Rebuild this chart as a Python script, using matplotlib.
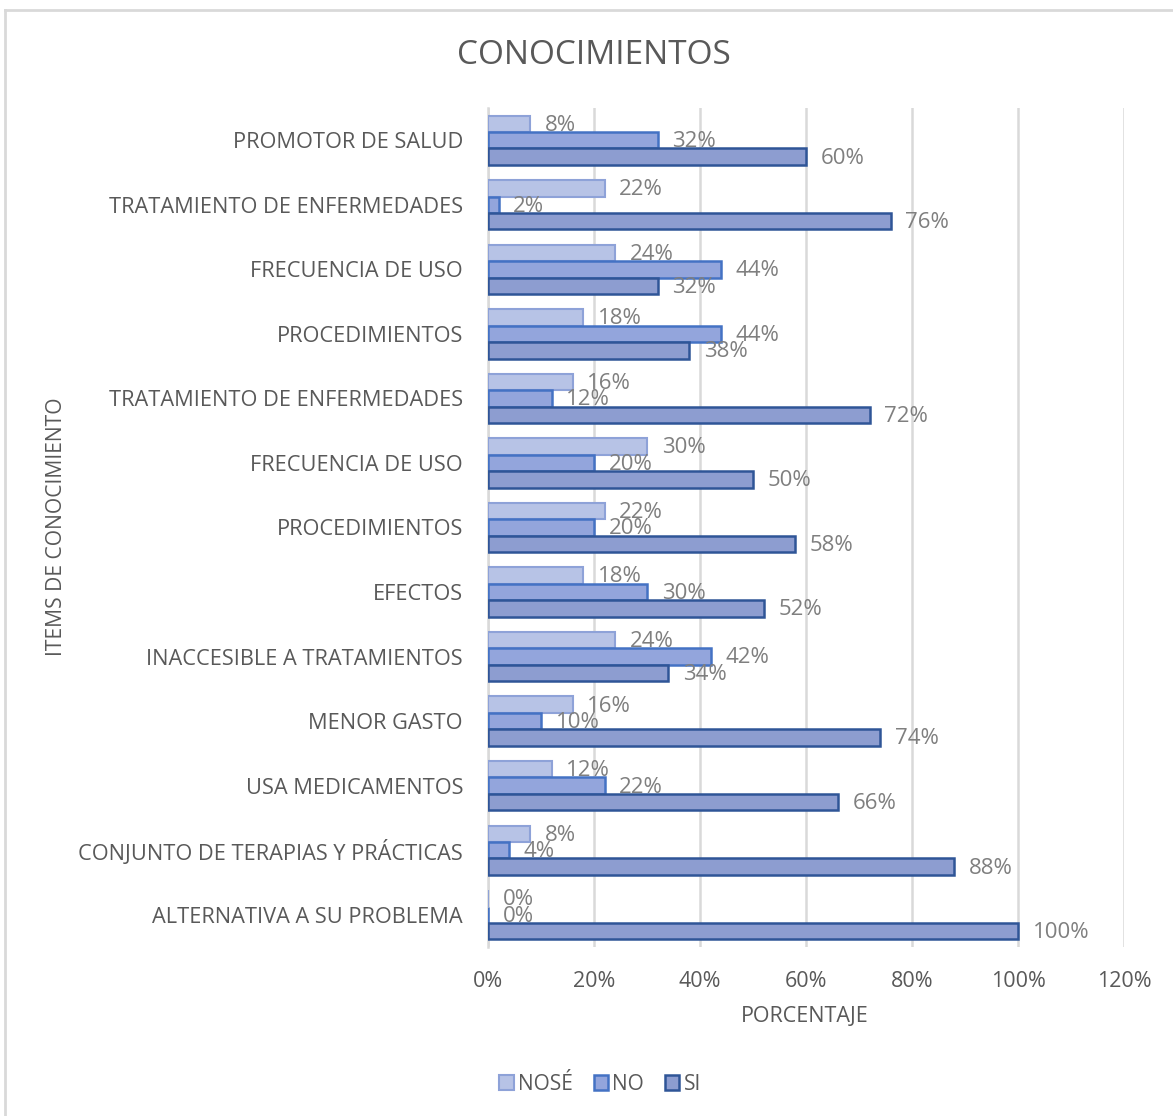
import matplotlib
matplotlib.use("Agg")
import matplotlib.pyplot as plt
import numpy as np
from matplotlib.lines import Line2D
from matplotlib.patches import Patch

plt.rcParams['font.family'] = ['Open Sans', 'DejaVu Sans']

categories = [
    "PROMOTOR DE SALUD",
    "TRATAMIENTO DE ENFERMEDADES",
    "FRECUENCIA DE USO",
    "PROCEDIMIENTOS",
    "TRATAMIENTO DE ENFERMEDADES",
    "FRECUENCIA DE USO",
    "PROCEDIMIENTOS",
    "EFECTOS",
    "INACCESIBLE A TRATAMIENTOS",
    "MENOR GASTO",
    "USA MEDICAMENTOS",
    "CONJUNTO DE TERAPIAS Y PRÁCTICAS",
    "ALTERNATIVA A SU PROBLEMA",
]
nose = [8, 22, 24, 18, 16, 30, 22, 18, 24, 16, 12, 8, 0]
no = [32, 2, 44, 44, 12, 20, 20, 30, 42, 10, 22, 4, 0]
si = [60, 76, 32, 38, 72, 50, 58, 52, 34, 74, 66, 88, 100]
series_names = ["NOSÉ", "NO", "SI"]
xticks = [0, 20, 40, 60, 80, 100, 120]

W, H = 1173, 1116
fig = plt.figure(figsize=(W / 100, H / 100), dpi=100)
ax = fig.add_axes([488 / W, 1 - 947 / H, (1124 - 488) / W, (947 - 108) / H])

n = len(categories)
ypos = np.arange(n)[::-1]  # top category at top
bh = 0.255
faces = ["#b7c3e6", "#93a5dc", "#8d9dd0"]
edges = ["#8ea2d8", "#4472c4", "#2f5597"]
lws = [1.5, 1.8, 1.8]
offsets = [bh, 0, -bh]
grey = "#7f7f7f"
txt = "#595959"
fs = 16

for vals, off, fc, ec, lw in zip([nose, no, si], offsets, faces, edges, lws):
    bars = ax.barh(ypos + off, vals, height=bh, color=fc, edgecolor=ec, linewidth=lw, zorder=3)
    for b, v in zip(bars, vals):
        ax.annotate(f"{v}%", (v, b.get_y() + b.get_height() / 2), xytext=(10.5, -1),
                    textcoords="offset points", ha="left", va="center",
                    fontsize=fs, color=grey, zorder=4)

ax.set_xlim(0, 120)
ax.set_ylim(-0.5, n - 0.5)
ax.set_xticks(xticks)
ax.set_xticklabels([f"{t}%" for t in xticks], fontsize=15.5, color=txt)
ax.set_yticks(ypos)
ax.set_yticklabels(categories, fontsize=15.7, color=txt)
ax.tick_params(axis='both', length=0)
ax.tick_params(axis='x', pad=17)
ax.tick_params(axis='y', pad=18)
ax.grid(axis='x', color="#d9d9d9", linewidth=1.8, zorder=0)
for s in ["top", "right", "bottom"]:
    ax.spines[s].set_visible(False)
ax.spines["left"].set_color("#d9d9d9")
ax.spines["left"].set_linewidth(1.8)

fig.text(594 / W, 1 - 55 / H, "CONOCIMIENTOS", ha="center", va="center", fontsize=24, color=txt)
fig.text(805 / W, 1 - 1016 / H, "PORCENTAJE", ha="center", va="center", fontsize=15.5, color=txt)
fig.text(57 / W, 1 - 527 / H, "ITEMS DE CONOCIMIENTO", ha="center", va="center",
         rotation=90, fontsize=15.2, color=txt)

handles = [Patch(facecolor=fc, edgecolor=ec, linewidth=lw) for fc, ec, lw in zip(faces, edges, lws)]
fig.legend(handles, series_names, loc="center", bbox_to_anchor=(600 / W, 1 - 1084 / H), ncol=3,
           frameon=False, fontsize=15, labelcolor=txt, handlelength=0.7, handleheight=0.7,
           handletextpad=0.2, columnspacing=1.0)

# chart border
fig.add_artist(Line2D([5 / W, 5 / W], [0, 1 - 10 / H], transform=fig.transFigure, color="#d9d9d9", lw=2))
fig.add_artist(Line2D([5 / W, 1], [1 - 10 / H, 1 - 10 / H], transform=fig.transFigure, color="#d9d9d9", lw=2))

fig.savefig("out.png", dpi=100)
